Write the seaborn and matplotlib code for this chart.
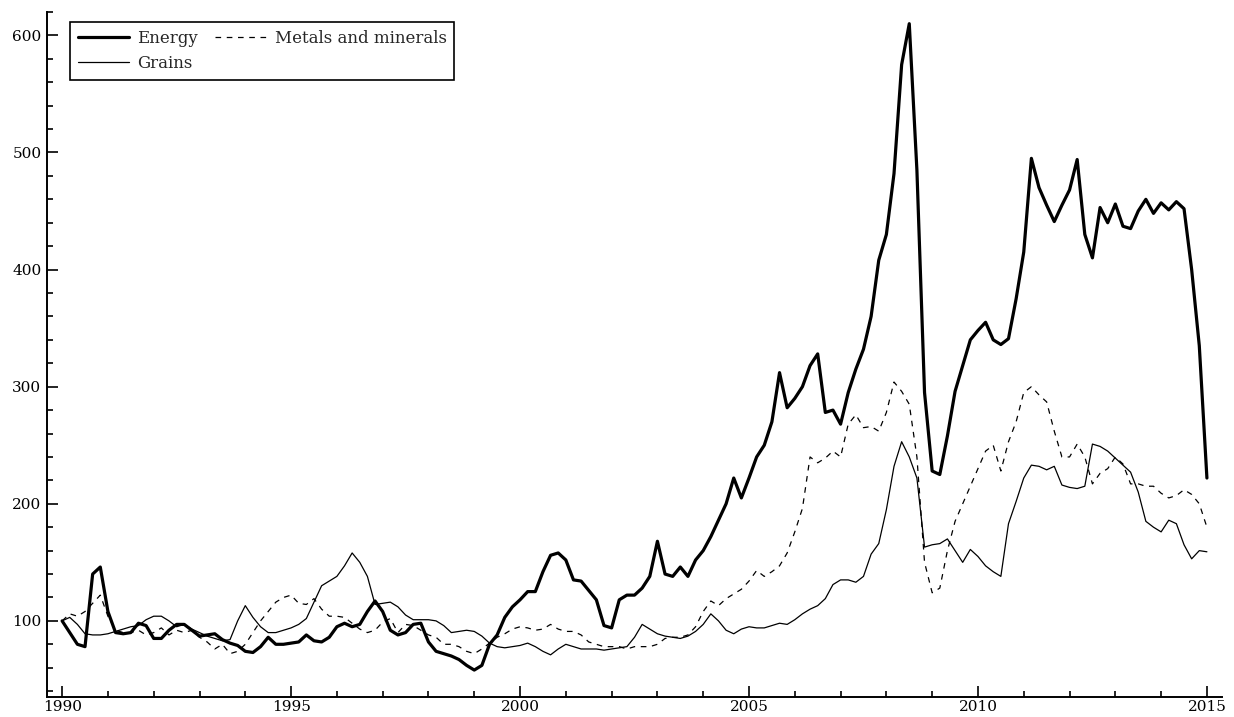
import numpy as np
import matplotlib
matplotlib.use("Agg")
import matplotlib.pyplot as plt
import seaborn as sns
from matplotlib.ticker import MultipleLocator

# readings every two months, Jan 1990 .. Jan 2015 (index, 1990 = 100)
years = 1990 + np.arange(151) / 6

energy = [
    100, 90, 80, 78, 140, 146, 108, 90, 89, 90, 98, 96, 85, 85, 92, 97,
    97, 92, 87, 88, 89, 84, 81, 79, 74, 73, 78, 86, 80, 80, 81,
    82, 88, 83, 82, 86, 95, 98, 95, 97, 108, 117, 108, 92, 88, 90,
    97, 98, 82, 74, 72, 70, 67, 62, 58, 62, 80, 88, 103, 112, 118,
    125, 125, 142, 156, 158, 152, 135, 134, 126, 118, 96, 94, 118, 122, 122,
    128, 138, 168, 140, 138, 146, 138, 152, 160, 172, 186, 200, 222, 205, 222,
    240, 250, 270, 312, 282, 290, 300, 318, 328, 278, 280, 268, 295, 315, 332,
    360, 408, 430, 482, 575, 610, 485, 295, 228, 225, 258, 296, 318, 340, 348,
    355, 340, 336, 341, 375, 415, 495, 470, 455, 441, 455, 468, 494, 430, 410,
    453, 440, 456, 437, 435, 450, 460, 448, 457, 451, 458, 452, 400, 335, 222,
]

grains = [
    100, 103, 97, 89, 88, 88, 89, 91, 93, 95, 96, 101, 104, 104, 100, 95,
    97, 93, 90, 87, 85, 83, 84, 100, 113, 103, 95, 90, 90, 92, 94,
    97, 102, 116, 130, 134, 138, 147, 158, 150, 138, 114, 115, 116, 112, 105,
    101, 101, 101, 100, 96, 90, 91, 92, 91, 87, 81, 78, 77, 78, 79,
    81, 78, 74, 71, 76, 80, 78, 76, 76, 76, 75, 76, 77, 78, 86,
    97, 93, 89, 87, 86, 85, 87, 91, 97, 106, 100, 92, 89, 93, 95,
    94, 94, 96, 98, 97, 101, 106, 110, 113, 119, 131, 135, 135, 133, 138,
    157, 166, 195, 232, 253, 240, 222, 163, 165, 166, 170, 160, 150, 161, 155,
    147, 142, 138, 183, 202, 222, 233, 232, 229, 232, 216, 214, 213, 215, 251,
    249, 245, 239, 233, 227, 210, 185, 180, 176, 186, 183, 165, 153, 160, 159,
]

metals = [
    100, 106, 104, 108, 115, 122, 104, 92, 90, 90, 92, 88, 90, 94, 88, 92,
    90, 92, 86, 82, 76, 80, 72, 74, 80, 90, 100, 108, 116, 120, 122,
    115, 114, 119, 110, 104, 104, 103, 98, 93, 90, 92, 99, 102, 90, 97,
    96, 92, 88, 86, 80, 80, 78, 74, 72, 76, 81, 86, 89, 93, 95,
    94, 92, 93, 97, 93, 91, 91, 88, 82, 80, 78, 78, 78, 76, 78,
    78, 78, 80, 85, 86, 86, 88, 95, 108, 117, 113, 119, 123, 127, 134,
    143, 138, 142, 147, 158, 176, 196, 240, 235, 239, 245, 240, 268, 276, 265,
    266, 262, 278, 304, 296, 285, 240, 150, 124, 128, 160, 185, 200, 215, 230,
    245, 250, 228, 253, 270, 295, 300, 293, 287, 262, 240, 240, 251, 240, 217,
    226, 230, 240, 234, 217, 217, 215, 215, 209, 205, 207, 212, 208, 200, 180,
]

sns.set_style("ticks")
plt.rcParams["font.family"] = ["DejaVu Serif"]

fig = plt.figure(figsize=(12.34, 7.17), dpi=100)
ax = fig.add_axes([0.0381, 0.0279, 0.9522, 0.9554])

sns.lineplot(x=years, y=energy, ax=ax, color="black", lw=2.3, label="Energy", zorder=3)
sns.lineplot(x=years, y=grains, ax=ax, color="black", lw=0.9, label="Grains")
sns.lineplot(x=years, y=metals, ax=ax, color="black", lw=0.9,
             linestyle=(0, (4.5, 4.5)), label="Metals and minerals")

sns.despine(ax=ax)
for side in ["left", "bottom"]:
    ax.spines[side].set_linewidth(1.4)
    ax.spines[side].set_color("black")

ax.set_xlim(1989.67, 2015.33)
ax.set_ylim(35, 620)
ax.xaxis.set_major_locator(MultipleLocator(5))
ax.xaxis.set_minor_locator(MultipleLocator(1))
ax.yaxis.set_major_locator(MultipleLocator(100))
ax.yaxis.set_minor_locator(MultipleLocator(20))
ax.tick_params(which="both", direction="in", width=1.2, colors="black", labelsize=11)
ax.tick_params(which="major", length=8)
ax.tick_params(which="minor", length=4)
ax.tick_params(axis="x", pad=2)
ax.tick_params(axis="y", pad=4)
ax.set_xlabel("")
ax.set_ylabel("")

leg = ax.legend(loc="upper left", bbox_to_anchor=(0.0196, 0.985), ncol=2,
                frameon=True, fancybox=False, edgecolor="black", framealpha=1,
                fontsize=12, handlelength=3.1, handletextpad=0.5,
                columnspacing=1.0, borderpad=0.45, labelspacing=0.5,
                borderaxespad=0)
leg.get_frame().set_linewidth(1.2)

fig.savefig("out.png", dpi=100)
